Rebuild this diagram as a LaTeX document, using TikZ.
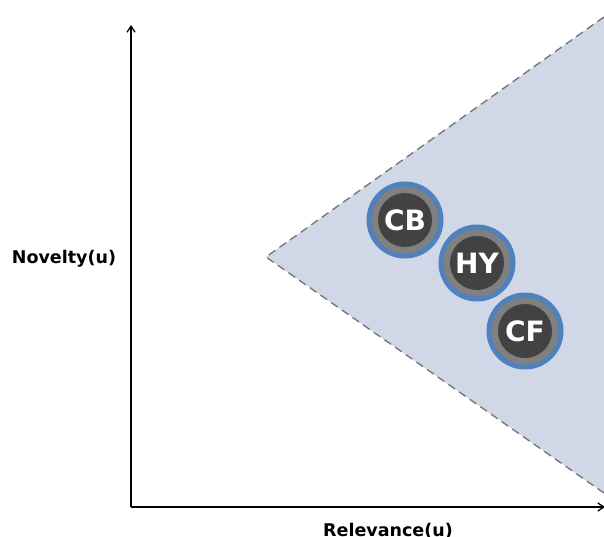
\documentclass[tikz,border=0pt]{standalone}
\usepackage{fontspec}
\setmainfont{DejaVu Sans}
\definecolor{conefill}{RGB}{208,216,232}
\definecolor{conedash}{RGB}{120,120,120}
\definecolor{ringblue}{RGB}{79,129,189}
\definecolor{ringgray}{RGB}{128,128,128}
\definecolor{innerdark}{RGB}{66,66,66}
\usetikzlibrary{arrows.meta, positioning}

\begin{document}
\begin{tikzpicture}[
    x=1pt, y=-1pt,
    axis/.style={-{Straight Barb[length=6pt,width=8pt]}, line width=1.3pt, color=black},
    cone/.style={dashed, dash pattern=on 8pt off 5pt, color=conedash, line width=1.4pt},
    axislabel/.style={font=\fontsize{17.5}{20}\selectfont\bfseries, text=black},
    method/.style={circle, inner sep=0pt, minimum size=72pt, fill=ringgray, draw=ringblue,
                   line width=5pt, text=white, font=\fontsize{28}{30}\selectfont\bfseries,
                   path picture={\fill[innerdark] (path picture bounding box.center) circle[radius=27pt];}}
]
\useasboundingbox (0,0) rectangle (604,537);

% shaded cone
\coordinate (apex) at (266,257);
\coordinate (conetop) at (604,17);
\coordinate (conebot) at (604,493);
\fill[conefill] (apex) -- (conetop) -- (conebot) -- cycle;
\draw[cone] (conetop) -- (apex) -- (conebot);

% axes
\coordinate (origin) at (131,507);
\coordinate (ytip) at (131,25);
\coordinate (xtip) at (605,507);
\draw[axis] (origin) -- (ytip);
\draw[axis] (origin) -- (xtip);

\node[axislabel] (novelty)   at (64,259)  {Novelty(u)};
\node[axislabel] (relevance) at (388,531) {Relevance(u)};

% methods
\node[method] (cb) at (405,220) {CB};
\node[method] (hy) at (477,263) {HY};
\node[method] (cf) at (525,331) {CF};

\end{tikzpicture}
\end{document}
